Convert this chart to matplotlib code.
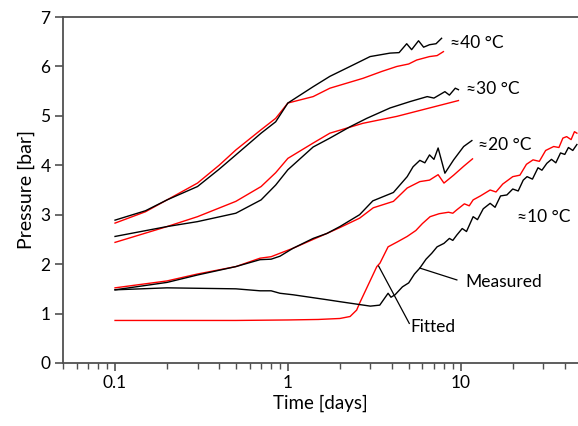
import matplotlib

matplotlib.use("Agg")

import matplotlib.pyplot as plt
from matplotlib.ticker import LogLocator, NullFormatter, FixedLocator, FixedFormatter

plt.rcParams["font.family"] = ["Lato", "DejaVu Sans"]

# --- measured (black) and fitted (red) pressure curves, time in days ---
t_m40 = [0.1, 0.15, 0.2, 0.3, 0.4, 0.5, 0.7, 0.85, 1.0, 1.4, 1.75, 2.29, 2.99, 3.9,
         4.4, 4.87, 5.2, 5.7, 6.1, 6.6, 7.2, 7.75]
p_m40 = [2.89, 3.08, 3.30, 3.57, 3.92, 4.21, 4.65, 4.88, 5.26, 5.59, 5.80, 6.00, 6.20,
         6.27, 6.28, 6.46, 6.34, 6.52, 6.39, 6.44, 6.46, 6.57]
t_f40 = [0.1, 0.15, 0.2, 0.3, 0.4, 0.5, 0.7, 0.85, 1.0, 1.4, 1.75, 2.72, 3.5, 4.27,
         5.0, 5.56, 6.6, 7.3, 7.94]
p_f40 = [2.83, 3.06, 3.30, 3.64, 4.00, 4.31, 4.72, 4.95, 5.26, 5.39, 5.56, 5.76, 5.90,
         6.00, 6.05, 6.13, 6.20, 6.22, 6.30]

t_m30 = [0.1, 0.2, 0.3, 0.5, 0.7, 0.85, 1.0, 1.4, 1.75, 2.29, 2.86, 3.9, 5.1, 6.4,
         7.0, 8.1, 8.6, 9.3, 9.7]
p_m30 = [2.56, 2.76, 2.86, 3.03, 3.30, 3.60, 3.91, 4.37, 4.55, 4.78, 4.95, 5.16, 5.29,
         5.39, 5.36, 5.49, 5.42, 5.56, 5.53]
t_f30 = [0.1, 0.2, 0.3, 0.5, 0.7, 0.85, 1.0, 1.4, 1.75, 2.72, 4.27, 6.6, 9.7]
p_f30 = [2.44, 2.76, 2.96, 3.27, 3.57, 3.85, 4.14, 4.45, 4.65, 4.85, 4.99, 5.16, 5.31]

t_m20 = [0.1, 0.2, 0.3, 0.5, 0.69, 0.8, 0.9, 1.07, 1.4, 1.68, 2.0, 2.6, 3.1, 4.08,
         4.9, 5.3, 5.8, 6.2, 6.6, 7.0, 7.4, 8.1, 9.1, 10.4, 11.6]
p_m20 = [1.48, 1.63, 1.78, 1.95, 2.09, 2.10, 2.16, 2.32, 2.52, 2.62, 2.76, 3.00, 3.28,
         3.45, 3.77, 3.97, 4.10, 4.05, 4.21, 4.12, 4.35, 3.84, 4.11, 4.38, 4.50]
t_f20 = [0.1, 0.2, 0.3, 0.5, 0.69, 0.8, 0.9, 1.07, 1.4, 1.68, 2.0, 2.6, 3.12, 4.08,
         4.9, 5.8, 6.6, 7.4, 8.0, 9.1, 10.4, 11.7]
p_f20 = [1.52, 1.66, 1.80, 1.95, 2.12, 2.15, 2.22, 2.32, 2.50, 2.62, 2.74, 2.93, 3.14,
         3.27, 3.54, 3.67, 3.70, 3.81, 3.64, 3.80, 3.98, 4.13]

t_m10 = [0.1, 0.2, 0.5, 0.69, 0.8, 0.9, 1.07, 1.68, 2.0, 3.0, 3.4, 3.8, 3.95, 4.17,
         4.6, 5.0, 5.4, 5.8, 6.3, 6.8, 7.3, 8.0, 8.6, 9.0, 9.5, 10.2, 10.8, 11.8,
         12.5, 13.5, 14.8, 15.8, 17.0, 18.5, 20.0, 21.5, 23.0, 24.2, 26.0, 28.0,
         29.5, 31.5, 33.5, 35.5, 37.8, 40.0, 42.0, 44.5, 47.0]
p_m10 = [1.48, 1.52, 1.50, 1.46, 1.46, 1.41, 1.38, 1.28, 1.24, 1.15, 1.17, 1.41, 1.33,
         1.38, 1.54, 1.62, 1.80, 1.92, 2.10, 2.22, 2.35, 2.42, 2.52, 2.48, 2.59, 2.72,
         2.66, 2.96, 2.90, 3.12, 3.23, 3.15, 3.38, 3.40, 3.52, 3.48, 3.70, 3.77, 3.72,
         3.95, 3.90, 4.04, 4.12, 4.05, 4.25, 4.22, 4.36, 4.30, 4.42]
t_f10 = [0.1, 0.5, 1.0, 1.5, 2.0, 2.29, 2.5, 2.6, 3.27, 3.41, 3.8, 4.3, 4.9, 5.5,
         6.0, 6.65, 7.5, 8.5, 9.0, 9.5, 10.5, 11.2, 11.8, 13.0, 14.8, 16.0, 17.5,
         20.0, 22.0, 24.0, 26.2, 28.5, 31.0, 34.5, 37.0, 39.0, 41.0, 43.5, 45.5, 47.0]
p_f10 = [0.86, 0.86, 0.87, 0.88, 0.90, 0.94, 1.07, 1.21, 1.95, 2.02, 2.35, 2.45, 2.56,
         2.68, 2.82, 2.96, 3.02, 3.05, 3.03, 3.10, 3.22, 3.18, 3.30, 3.38, 3.50, 3.46,
         3.62, 3.77, 3.80, 4.02, 4.11, 4.08, 4.30, 4.38, 4.36, 4.55, 4.58, 4.52, 4.68,
         4.65]

measured = [(t_m40, p_m40), (t_m30, p_m30), (t_m20, p_m20), (t_m10, p_m10)]
fitted = [(t_f40, p_f40), (t_f30, p_f30), (t_f20, p_f20), (t_f10, p_f10)]

temp_labels = ["≈40 °C", "≈30 °C", "≈20 °C", "≈10 °C"]
temp_label_pos = [(8.7, 6.48), (10.7, 5.55), (12.6, 4.41), (21.2, 2.96)]

fig = plt.figure(figsize=(5.78, 4.26), dpi=100)
ax = fig.add_axes([0.109, 0.148, 0.891, 0.812])

for t, p in fitted:
    ax.plot(t, p, color="#ff0000", linewidth=1.0)
for t, p in measured:
    ax.plot(t, p, color="black", linewidth=1.0)

for lab, (x, y) in zip(temp_labels, temp_label_pos):
    ax.text(x, y, lab, fontsize=12.5, ha="left", va="center")

# pointer lines for the two annotations
ax.plot([5.8, 9.5], [1.92, 1.68], color="black", linewidth=0.9)
ax.text(10.6, 1.64, "Measured", fontsize=12.5, ha="left", va="center")
ax.plot([3.35, 5.04], [1.96, 0.80], color="black", linewidth=0.9)
ax.text(5.1, 0.73, "Fitted", fontsize=12.5, ha="left", va="center")

ax.set_xscale("log")
ax.set_xlim(0.05, 47.7)
ax.set_ylim(0, 7)
ax.xaxis.set_major_locator(FixedLocator([0.1, 1, 10]))
ax.xaxis.set_major_formatter(FixedFormatter(["0.1", "1", "10"]))
ax.xaxis.set_minor_locator(LogLocator(base=10, subs=range(2, 10)))
ax.xaxis.set_minor_formatter(NullFormatter())
ax.set_yticks(range(0, 8))

ax.set_xlabel("Time [days]", fontsize=13.5, labelpad=2)
ax.set_ylabel("Pressure [bar]", fontsize=14, labelpad=4)

spine_col = "#505050"
for side in ["left", "top", "bottom"]:
    ax.spines[side].set_color(spine_col)
    ax.spines[side].set_linewidth(1.3)
ax.spines["right"].set_visible(False)
ax.tick_params(axis="both", which="major", direction="out", length=6, width=1.2,
               color=spine_col, labelsize=12.5, pad=3)
ax.tick_params(axis="x", which="minor", direction="out", length=4, width=1.0,
               color=spine_col)

fig.savefig("out.png", dpi=100)
